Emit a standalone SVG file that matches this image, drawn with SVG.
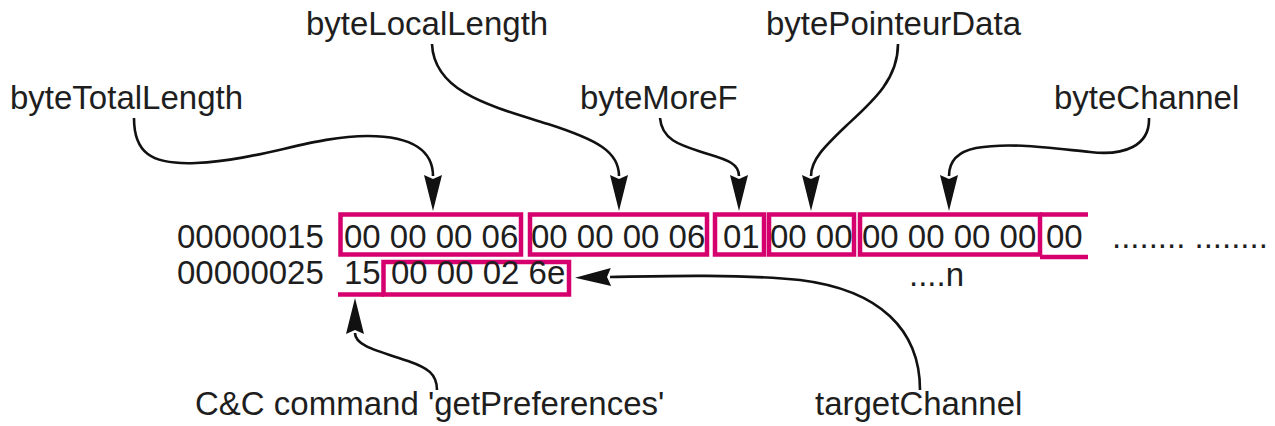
<svg xmlns="http://www.w3.org/2000/svg" width="1275" height="426" viewBox="0 0 1275 426">
<style>
text{font-family:"Liberation Sans",Arial,sans-serif;font-size:33px;fill:#1e1e1e}
.box{fill:none;stroke:#d5006d;stroke-width:4.5}
.ln{fill:none;stroke:#d5006d;stroke-width:4.5}
.c{fill:none;stroke:#111;stroke-width:2.6;marker-end:url(#ah)}
</style>
<defs>
<marker id="ah" markerUnits="userSpaceOnUse" markerWidth="40" markerHeight="24" refX="0" refY="0" orient="auto" overflow="visible">
<path d="M35,0 L-1,-9 L3,0 L-1,9 Z" fill="#111"/>
</marker>
</defs>
<rect width="1275" height="426" fill="#fff"/>
<g id="labels">
<g id="lbl-total"><text x="10" y="109">byteTotalLength</text></g>
<g id="lbl-local"><text x="306" y="35">byteLocalLength</text></g>
<g id="lbl-moref"><text x="580" y="109">byteMoreF</text></g>
<g id="lbl-pointeur"><text x="766" y="35">bytePointeurData</text></g>
<g id="lbl-channel"><text x="1054" y="109">byteChannel</text></g>
<g id="lbl-cmd"><text x="195" y="415">C&amp;C command 'getPreferences'</text></g>
<g id="lbl-target"><text x="815" y="415">targetChannel</text></g>
</g>
<g id="offsets">
<text x="177" y="248">00000015</text>
<text x="177" y="284">00000025</text>
</g>
<g id="f-total"><rect class="box" x="340.5" y="214.5" width="180.5" height="40"/><text x="344" y="248">00 00 00 06</text></g>
<g id="f-local"><rect class="box" x="530" y="214.5" width="177" height="40"/><text x="531" y="248">00 00 00 06</text></g>
<g id="f-moref"><rect class="box" x="715" y="214.5" width="49" height="40"/><text x="723" y="248">01</text></g>
<g id="f-pointeur"><rect class="box" x="769" y="214.5" width="85" height="40"/><text x="770" y="248">00 00</text></g>
<g id="f-channel"><rect class="box" x="860" y="214.5" width="180" height="40"/><text x="862" y="248">00 00 00 00</text></g>
<g id="f-next"><path class="ln" d="M1040,214.5 H1088 M1040,257 H1088"/><text x="1046" y="248">00</text></g>
<g id="f-dots"><text x="1112" y="248">........ ........</text></g>
<g id="f-cmd"><path class="ln" d="M338,294.5 H384"/><text x="344" y="284">15</text></g>
<g id="f-target"><rect class="box" x="383.5" y="262" width="185.5" height="32.5"/><text x="391" y="284">00 00 02 6e</text></g>
<g id="f-n"><text x="909" y="286">....n</text></g>
<g id="connectors">
<path class="c" d="M134,118 C134,152 150,165 196,163 C262,160 312,136 368,136 C414,136 433,152 433,176"/>
<path class="c" d="M432,44 C434,92 490,106 548,124 C598,140 619,152 619,176"/>
<path class="c" d="M660,118 C662,142 684,146 708,154 C728,160 739,164 739,176"/>
<path class="c" d="M898,44 C898,80 872,102 846,126 C824,147 811,160 811,176"/>
<path class="c" d="M1149,118 C1150,146 1124,156 1090,152 C1050,148 1010,142 976,148 C956,152 949,162 949,176"/>
<path class="c" d="M437,390 C437,374 428,368 408,361 C378,351 355,346 355,333"/>
<path class="c" d="M920,390 C920,330 880,290 800,280 C740,274 660,276 610,277"/>
</g>
</svg>
